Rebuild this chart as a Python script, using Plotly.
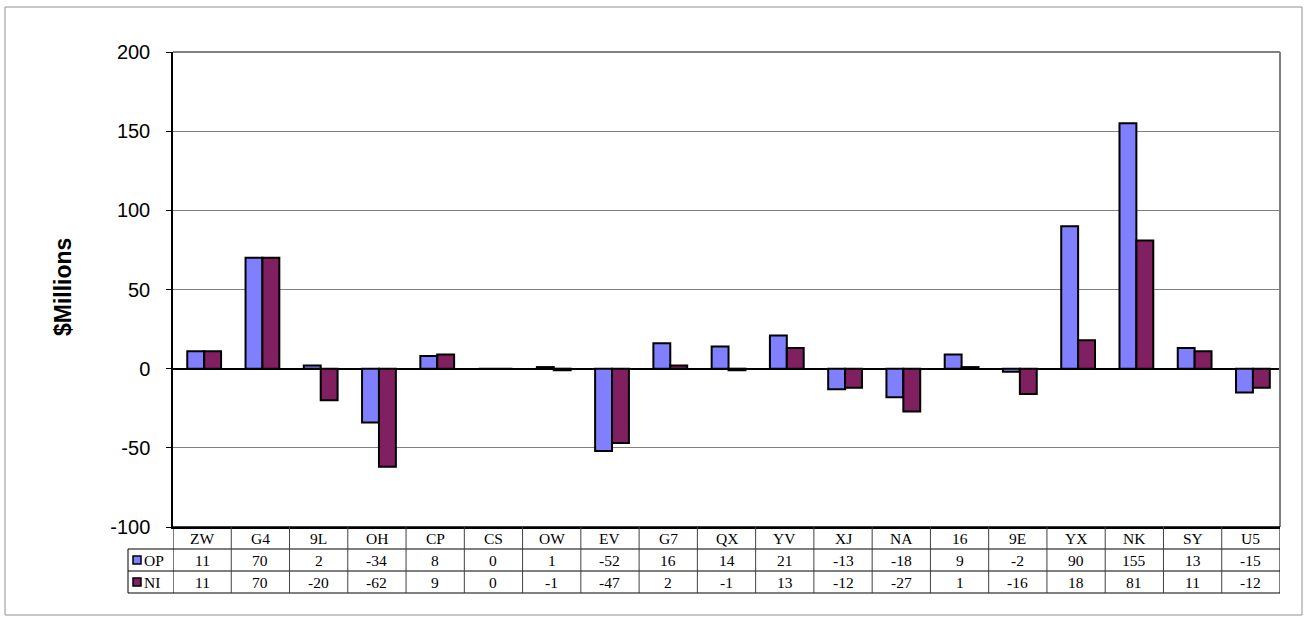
import plotly.graph_objects as go

categories = ["ZW","G4","9L","OH","CP","CS","OW","EV","G7","QX","YV","XJ","NA","16","9E","YX","NK","SY","U5"]
op = [11,70,2,-34,8,0,1,-52,16,14,21,-13,-18,9,-2,90,155,13,-15]
ni = [11,70,-20,-62,9,0,-1,-47,2,-1,13,-12,-27,1,-16,18,81,11,-12]
series = [("OP", op, "#8080FF"), ("NI", ni, "#802060")]
y_ticks = [-100, -50, 0, 50, 100, 150, 200]

W, H = 1307, 622
L, R, T, B = 173, 1280, 52, 527
pw, ph = R - L, B - T

def px(xp):
    return (xp - L) / pw
def py(yp):
    return (B - yp) / ph

idx = list(range(len(categories)))

fig = go.Figure()
for name, vals, col in series:
    fig.add_trace(go.Bar(x=idx, y=vals, name=name, offset=[-0.255] * len(idx) if name == "OP" else [0.035] * len(idx),
                         width=0.29, marker=dict(color=col, line=dict(color="black", width=2))))

shapes = []
ann = []
shapes.append(dict(type="rect", xref="paper", yref="paper", x0=px(5), x1=px(1302), y0=py(615), y1=py(7),
                   line=dict(color="#909090", width=1), layer="below"))
shapes.append(dict(type="line", xref="paper", yref="paper", x0=0, x1=1, y0=1, y1=1, line=dict(color="#808080", width=2)))
shapes.append(dict(type="line", xref="paper", yref="paper", x0=1, x1=1, y0=0, y1=1, line=dict(color="#808080", width=2)))

row_y = [527, 549, 571, 593]
shapes.append(dict(type="line", xref="paper", yref="paper", x0=0, x1=1, y0=py(527), y1=py(527), line=dict(color="black", width=1.5)))
for yy in row_y[1:]:
    shapes.append(dict(type="line", xref="paper", yref="paper", x0=px(128), x1=1, y0=py(yy), y1=py(yy), line=dict(color="black", width=1)))
shapes.append(dict(type="line", xref="paper", yref="paper", x0=px(128), x1=px(128), y0=py(593), y1=py(549), line=dict(color="black", width=1)))
for i in range(len(categories) + 1):
    shapes.append(dict(type="line", xref="x", yref="paper", x0=i - 0.5, x1=i - 0.5, y0=py(593), y1=py(527),
                       line=dict(color="black" if i in (0, len(categories)) else "#404040", width=1)))

tfont = dict(family="Liberation Serif", size=15.5, color="black")
for i, c in enumerate(categories):
    ann.append(dict(x=i, xref="x", y=py(538), yref="paper", text=c, showarrow=False, font=tfont,
                    xanchor="center", yanchor="middle"))
    for r, (name, vals, col) in enumerate(series):
        ann.append(dict(x=i, xref="x", y=py(560 + 22 * r), yref="paper", text=str(vals[i]), showarrow=False, font=tfont,
                        xanchor="center", yanchor="middle"))
for r, (name, vals, col) in enumerate(series):
    yc = 560 + 22 * r
    shapes.append(dict(type="rect", xref="paper", yref="paper", x0=px(133), x1=px(141), y0=py(yc + 4), y1=py(yc - 4),
                       fillcolor=col, line=dict(color="black", width=1.5)))
    ann.append(dict(x=px(142), xref="paper", y=py(yc), yref="paper", text=name, showarrow=False, xanchor="left",
                    yanchor="middle", font=tfont))

ann.append(dict(x=px(63), xref="paper", y=py(287), yref="paper", text="<b>$Millions</b>", textangle=-90, showarrow=False,
                xanchor="center", yanchor="middle", font=dict(family="Liberation Sans", size=23, color="black")))

fig.update_layout(
    width=W, height=H,
    margin=dict(l=L, r=W - R, t=T, b=H - B),
    paper_bgcolor="white", plot_bgcolor="white",
    barmode="overlay",
    showlegend=False,
    shapes=shapes, annotations=ann,
    xaxis=dict(range=[-0.5, len(categories) - 0.5], showticklabels=False, showgrid=False, zeroline=False,
               showline=True, linecolor="black", linewidth=1.5, ticks=""),
    yaxis=dict(range=[-100, 200], tickvals=y_ticks, ticktext=[str(v) for v in y_ticks],
               showgrid=True, gridcolor="#808080", gridwidth=1,
               zeroline=True, zerolinecolor="black", zerolinewidth=1.5,
               showline=True, linecolor="black", linewidth=1.5, ticks="outside", ticklen=5, tickcolor="black",
               ticklabelstandoff=12,
               tickfont=dict(family="Liberation Sans", size=20, color="black")),
)
fig.write_html("out.html", config={"displayModeBar": False},
               post_script="document.body.style.margin='0px';document.body.style.overflow='hidden';")
